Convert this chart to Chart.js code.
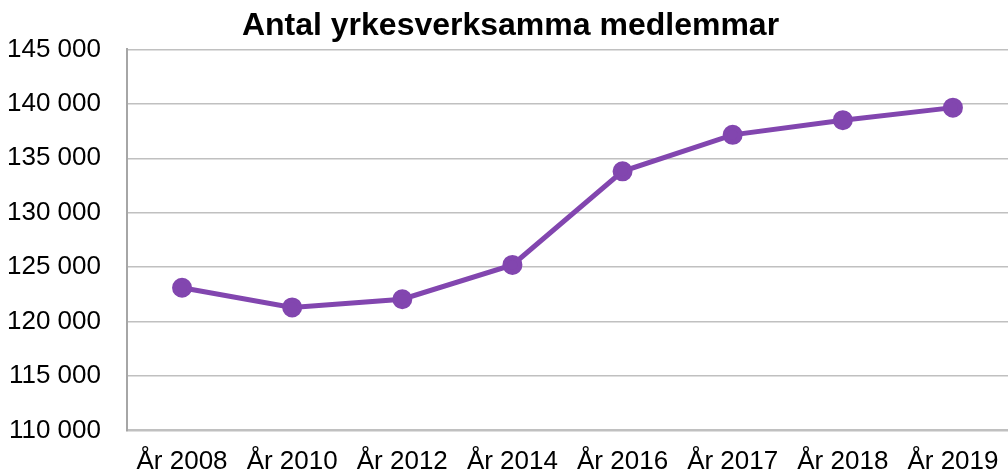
<!DOCTYPE html>
<html>
<head>
<meta charset="utf-8">
<script src="https://cdn.jsdelivr.net/npm/chart.js@4/dist/chart.umd.min.js"></script>
<style>
  html, body { margin: 0; padding: 0; background: #fff; }
  #wrap { width: 1008px; height: 472px; }
</style>
</head>
<body>
<div id="wrap"><canvas id="chart"></canvas></div>
<script>
var categories = ["År 2008", "År 2010", "År 2012", "År 2014", "År 2016", "År 2017", "År 2018", "År 2019"];
var members = [123100, 121300, 122050, 125200, 133800, 137150, 138500, 139650];
var yTicks = [110000, 115000, 120000, 125000, 130000, 135000, 140000, 145000];

function fmt(v) {
  return String(v).replace(/\B(?=(\d{3})+(?!\d))/g, " ");
}

Chart.defaults.font.family = "'Liberation Sans', Arial, sans-serif";
Chart.defaults.color = "#000";

new Chart(document.getElementById("chart"), {
  type: 'line',
  data: {
    labels: categories,
    datasets: [{
      label: "Antal yrkesverksamma medlemmar",
      data: members,
      borderColor: "#8246af",
      backgroundColor: "#8246af",
      borderWidth: 5,
      pointRadius: 7.5,
      pointHoverRadius: 7.5,
      tension: 0
    }]
  },
  options: {
    responsive: true,
    maintainAspectRatio: false,
    animation: false,
    layout: { autoPadding: false, padding: { left: -19, right: -32, top: 5, bottom: -22 } },
    plugins: {
      legend: { display: false },
      tooltip: { enabled: false },
      title: {
        display: true,
        text: "Antal yrkesverksamma medlemmar",
        color: "#000",
        font: { size: 32, weight: 'bold' },
        padding: { top: 2, bottom: 4 }
      }
    },
    scales: {
      x: {
        offset: true,
        grid: { display: false, drawTicks: false },
        border: { color: "#c0c0c0", width: 2 },
        ticks: { font: { size: 26 }, padding: 16, maxRotation: 0, autoSkip: false },
        // plot runs to the right edge, like the original
        afterFit: function (s) { s.paddingRight = 0; }
      },
      y: {
        min: yTicks[0],
        max: yTicks[yTicks.length - 1],
        afterBuildTicks: function (axis) {
          axis.ticks = yTicks.map(function (v) { return { value: v }; });
        },
        grid: { color: "#c0c0c0", lineWidth: 1.5, drawTicks: false },
        border: { color: "#a6a6a6", width: 2 },
        ticks: {
          font: { size: 26 },
          padding: 26,
          callback: function (v) { return fmt(v); }
        }
      }
    }
  }
});
</script>
</body>
</html>
